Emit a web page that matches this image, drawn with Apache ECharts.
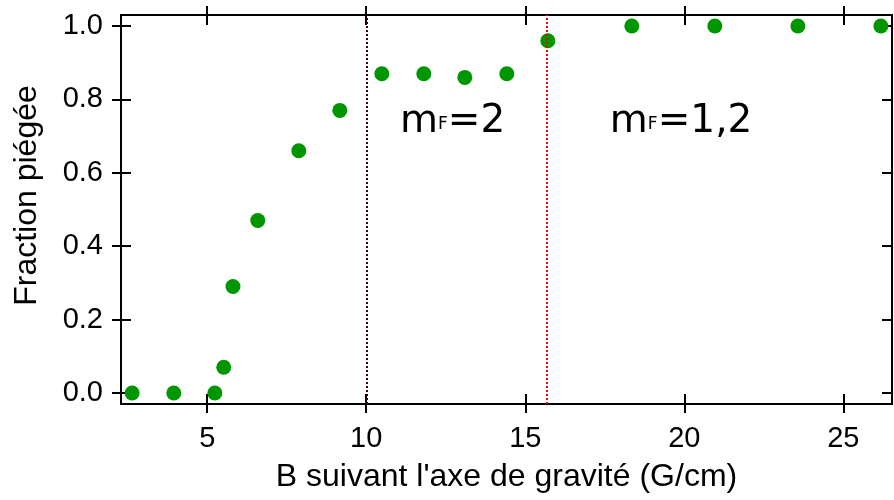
<!DOCTYPE html>
<html>
<head>
<meta charset="utf-8">
<script src="https://cdn.jsdelivr.net/npm/echarts@6/dist/echarts.min.js"></script>
<style>
  html, body { margin: 0; padding: 0; background: #fff; }
  #chart { width: 894px; height: 500px; }
</style>
</head>
<body>
<div id="chart"></div>
<script>
// champ B (G/cm) et fraction piégée
const bField = [2.64, 3.95, 5.24, 5.52, 5.81, 6.59, 7.88, 9.17, 10.49, 11.81, 13.10, 14.42, 15.71, 18.35, 20.96, 23.57, 26.18]
const fraction = [0.0, 0.0, 0.0, 0.07, 0.29, 0.47, 0.66, 0.77, 0.87, 0.87, 0.86, 0.87, 0.96, 1.0, 1.0, 1.0, 1.0]
const xTicks = [5, 10, 15, 20, 25]
const yTicks = [0.0, 0.2, 0.4, 0.6, 0.8, 1.0]
const xRange = [2.29, 26.53]
const yRange = [-0.03, 1.03]
// seuils (lignes verticales)
const thresholds = [10.02, 15.66]
// annotations m_F
const labelX = [11.06, 17.66]
const labelY = [0.745, 0.745]
const labelText = ['=2', '=1,2']

const black = '#000'
const green = '#009600'
const font = 'Liberation Sans, Arial, sans-serif'

const chart = echarts.init(document.getElementById('chart'))

function xAxis (position, inside, withLabels) {
  return {
    type: 'value',
    position: position,
    min: xRange[0],
    max: xRange[1],
    axisLine: { show: true, onZero: false, lineStyle: { color: black, width: 2 } },
    axisTick: { show: true, inside: inside, length: inside ? 10 : 9, customValues: xTicks, lineStyle: { color: black, width: 2 } },
    axisLabel: {
      show: withLabels,
      customValues: xTicks,
      margin: 20,
      color: black,
      fontSize: 29,
      fontFamily: font
    },
    splitLine: { show: false },
    name: withLabels ? 'B suivant l\'axe de gravité (G/cm)' : '',
    nameLocation: 'middle',
    nameGap: 57,
    nameTextStyle: { color: black, fontSize: 32, fontFamily: font }
  }
}

function yAxis (position, inside, withLabels) {
  return {
    type: 'value',
    position: position,
    min: yRange[0],
    max: yRange[1],
    axisLine: { show: true, onZero: false, lineStyle: { color: black, width: 2 } },
    axisTick: { show: true, inside: inside, length: inside ? 10 : 9, customValues: yTicks, lineStyle: { color: black, width: 2 } },
    axisLabel: {
      show: withLabels,
      customValues: yTicks,
      margin: 18,
      color: black,
      fontSize: 29,
      fontFamily: font,
      formatter: v => v.toFixed(1)
    },
    splitLine: { show: false },
    name: withLabels ? 'Fraction piégée' : '',
    nameLocation: 'middle',
    nameGap: 78,
    nameTextStyle: { color: black, fontSize: 32, fontFamily: font, padding: [0, 0, 0, 28] }
  }
}

const annotations = labelText.map((t, i) => ({
  coord: [labelX[i], labelY[i]],
  label: { formatter: '{m|m}{f|F}{m|' + t + '}' }
}))

const option = {
  animation: false,
  backgroundColor: '#fff',
  grid: { left: 121, right: 2, top: 15, bottom: 96 },
  xAxis: [
    xAxis('bottom', false, true),
    xAxis('bottom', true, false),
    xAxis('top', false, false),
    xAxis('top', true, false)
  ],
  yAxis: [
    yAxis('left', false, true),
    yAxis('left', true, false),
    yAxis('right', true, false)
  ],
  series: [
    {
      type: 'scatter',
      xAxisIndex: 0,
      yAxisIndex: 0,
      symbolSize: 15,
      itemStyle: { color: green, opacity: 1 },
      data: bField.map((b, i) => [b, fraction[i]]),
      markLine: {
        silent: true,
        symbol: 'none',
        label: { show: false },
        data: [
          { xAxis: thresholds[0], lineStyle: { color: '#330000', width: 2, type: [2, 2] } },
          { xAxis: thresholds[1], lineStyle: { color: '#ff0000', width: 2, type: [2, 2] } }
        ]
      },
      markPoint: {
        silent: true,
        symbol: 'circle',
        symbolSize: 0,
        label: {
          show: true,
          position: 'right',
          distance: 0,
          color: black,
          rich: {
            m: { fontSize: 39, fontFamily: 'DejaVu Sans', color: black, lineHeight: 44, verticalAlign: 'bottom' },
            f: { fontSize: 17, fontFamily: 'DejaVu Sans', color: black, lineHeight: 44, verticalAlign: 'bottom', padding: [0, 0, 9, 0] }
          }
        },
        data: annotations
      }
    }
  ]
}

chart.setOption(option)
</script>
</body>
</html>
